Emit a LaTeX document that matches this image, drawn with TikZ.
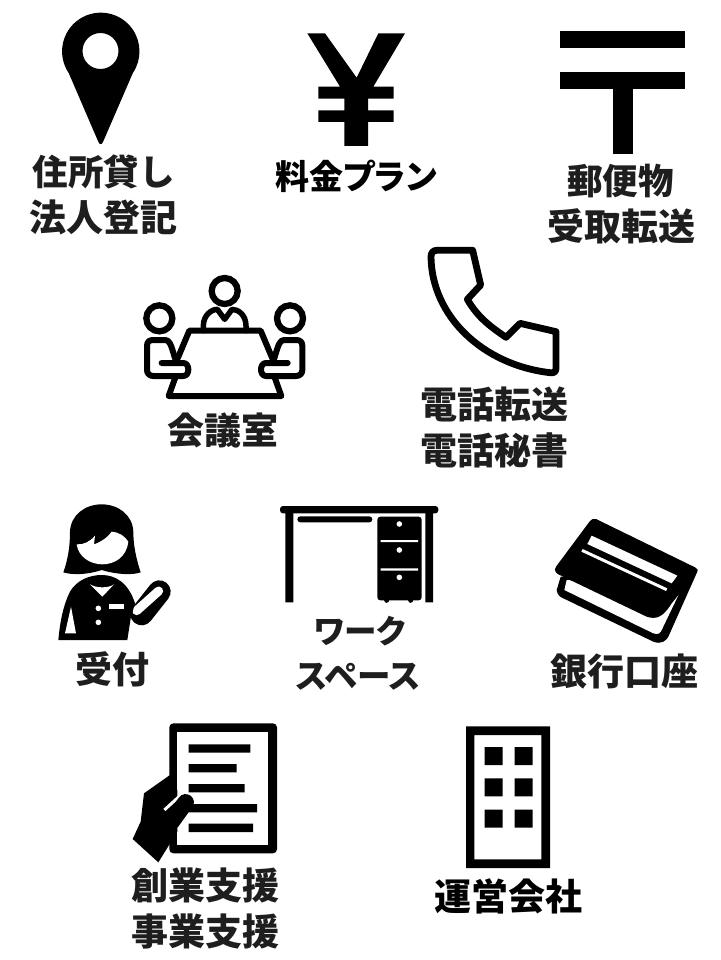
\documentclass[tikz,border=0pt]{standalone}
\usepackage{fontspec}
\newfontfamily\jp{Noto Sans CJK JP}[Script=CJK,Language=Japanese]
\newfontfamily\jpp{Noto Sans CJK JP}[Script=CJK,Language=Japanese,RawFeature={+palt}]
\definecolor{ink}{HTML}{1E1E1E}
\tikzset{
  lbl/.style={font=\jp\bfseries\fontsize{37pt}{37pt}\selectfont, text=ink, inner sep=0pt, anchor=center},
  lbs/.style={lbl, font=\jp\bfseries\fontsize{35.5pt}{35.5pt}\selectfont},
  lbk/.style={lbl, text=black},
  kana/.style={lbl, font=\jpp\bfseries\fontsize{#1pt}{#1pt}\selectfont},
  ico/.style={fill=black, draw=none},
  hole/.style={fill=white, draw=none},
  ln/.style={draw=black, line width=6pt, line cap=round, line join=round},
  zoomA/.style={shift={(#1)}, x=.33333pt, y=-.33333pt}
}
\begin{document}
\begin{tikzpicture}[x=1pt,y=-1pt]
\useasboundingbox[fill=white] (0,0) rectangle (720,960);
% pin
\fill[ico, even odd rule] (68.7,73) arc[start angle=214,end angle=-34,radius=38.7pt] -- (103.2,141.5) .. controls (102,145) and (99.5,145) .. (98.2,141.5) -- cycle (100.5,51) circle[radius=18pt];
% yen
\begin{scope}[zoomA={290,20}]
\fill[ico] (52,40) -- (105,40) -- (200,173) -- (265,40) -- (345,40) -- (250,200) -- (311,200) -- (311,236) -- (234,236) -- (234,271) -- (311,271) -- (311,306) -- (234,306) -- (234,378) -- (163,378) -- (163,306) -- (85,306) -- (85,271) -- (163,271) -- (163,236) -- (85,236) -- (85,200) -- (150,200) -- cycle;
\fill[ico] (810,33) rectangle (1185,85);
\fill[ico] (810,157) rectangle (1185,208);
\fill[ico] (968,208) rectangle (1028,403);
\end{scope}
% meeting room and phone
\begin{scope}[zoomA={130,240}]
\draw[ln] (143,355) -- (178,272) -- (392,272) -- (427,355);
\draw[ln] (135,415) -- (116,468) -- (454,468) -- (435,415);
\draw[draw=black,line width=6.3pt] (284,153) circle[radius=13pt];
\draw[draw=black,line width=6.3pt] (88,235) circle[radius=13pt];
\draw[draw=black,line width=6.3pt] (480,235) circle[radius=13pt];
\draw[ln,line width=5.5pt] (220,272) -- (220,258) .. controls (220,225) and (245,208) .. (262,208) -- (284,238) -- (306,208) .. controls (325,208) and (348,225) .. (348,258) -- (348,272);
\draw[ln] (95,369) -- (160,369) .. controls (180,369) and (180,408) .. (160,408) -- (70,408) .. controls (58,408) and (51,400) .. (51,390) -- (51,318) .. controls (51,305) and (58,300) .. (70,300) -- (105,300) .. controls (118,300) and (122,310) .. (135,355);
\draw[ln] (473,369) -- (408,369) .. controls (388,369) and (388,408) .. (408,408) -- (498,408) .. controls (510,408) and (517,400) .. (517,390) -- (517,318) .. controls (517,305) and (510,300) .. (498,300) -- (463,300) .. controls (450,300) and (446,310) .. (433,355);
% phone
\draw[ln,line width=6.8pt] (920,31) -- (1028,31) -- (1052,135) -- (1012,178) .. controls (1045,235) and (1085,262) .. (1128,292) -- (1170,250) -- (1278,275) -- (1278,385) .. controls (1278,395) and (1272,400) .. (1260,398) .. controls (1060,375) and (905,230) .. (903,50) .. controls (903,38) and (910,31) .. (920,31) -- cycle;
\end{scope}
% receptionist and desk
\begin{scope}[zoomA={40,495}]
\fill[ico] (70,232) .. controls (85,190) and (90,150) .. (90,110) .. controls (92,60) and (135,28) .. (185,28) .. controls (235,28) and (278,60) .. (280,110) .. controls (280,150) and (288,190) .. (302,232) .. controls (280,240) and (235,240) .. (185,225) .. controls (140,240) and (95,240) .. (70,232) -- cycle;
\fill[hole] (110,148) .. controls (130,150) and (150,140) .. (165,122) -- (162,148) .. controls (185,140) and (205,125) .. (215,110) .. controls (240,112) and (255,125) .. (265,140) .. controls (260,185) and (225,208) .. (187,208) .. controls (150,208) and (115,185) .. (110,148) -- cycle;
\draw[draw=black,line width=22.7pt,line cap=round] (305,357) -- (358,290);
\draw[draw=white,line width=9pt,line cap=round] (290,347) -- (356,288);
\fill[ico] (55,435) .. controls (60,380) and (70,330) .. (90,290) .. controls (110,255) and (150,240) .. (185,240) .. controls (225,240) and (265,262) .. (285,325) -- (272,370) -- (262,435) -- cycle;
\fill[hole] (150,268) .. controls (170,280) and (205,280) .. (222,268) -- (187,305) -- cycle;
\fill[hole] (175,340) circle[radius=2.8pt] (175,382) circle[radius=2.8pt];
\fill[hole] (208,328) rectangle (252,342);
\fill[hole] (93,335) -- (108,415) -- (75,415) -- cycle;
% desk
\fill[ico,rounded corners=3pt] (720,33) rectangle (1195,55);
\fill[ico] (736,50) rectangle (760,322) (1156,50) rectangle (1179,322);
\fill[ico,rounded corners=3pt] (772,64) rectangle (997,82);
\fill[ico,rounded corners=3pt] (1012,65) rectangle (1145,316);
\fill[ico] (1040,316) circle[radius=2.5pt] (1112,316) circle[radius=2.5pt];
\fill[hole] (1022,135) rectangle (1134,141) (1022,220) rectangle (1134,227);
\fill[hole] (1078,87) circle[radius=2.8pt] (1078,165) circle[radius=2.8pt] (1078,247) circle[radius=2.8pt];
\end{scope}
% card
\begin{scope}[zoomA={540,505}]
\fill[ico] (62,215) -- (50,255) .. controls (52,270) and (60,276) .. (70,280) -- (340,410) .. controls (365,420) and (380,405) .. (385,395) -- (472,200) -- cycle;
\fill[hole] (80,225) -- (73,255) -- (340,385) .. controls (355,390) and (360,385) .. (365,375) -- (425,250) -- cycle;
\fill[ico] (168,42) .. controls (160,40) and (155,42) .. (150,48) -- (48,185) .. controls (42,195) and (46,203) .. (55,208) -- (320,335) .. controls (350,345) and (370,335) .. (395,295) -- (470,202) .. controls (476,195) and (472,190) .. (465,187) -- cycle;
\fill[hole] (155,92) -- (412,212) -- (395,235) -- (142,117) -- cycle;
\fill[hole] (128,132) -- (382,250) -- (378,258) -- (124,140) -- cycle;
\end{scope}
% document
\begin{scope}[zoomA={120,715}]
\fill[ico,rounded corners=4pt] (148,25) rectangle (471,415);
\fill[hole] (172,50) rectangle (445,390);
\fill[ico] (206,88) rectangle (391,113) (206,147) rectangle (350,172) (206,207) rectangle (374,232) (206,267) rectangle (411,292) (206,326) rectangle (399,351);
\fill[ico] (150,180) -- (72,235) -- (62,320) -- (38,372) -- (115,442) -- (172,350) -- (172,225) -- cycle;
\draw[draw=white,line width=3pt] (133,285) -- (190,233);
\draw[draw=black,line width=16.5pt,line cap=round] (197,262) -- (155,320);
\end{scope}
% building
\begin{scope}[zoomA={430,715}]
\fill[ico,even odd rule] (108,34) rectangle (360,459) (133,60) rectangle (334,433);
\fill[ico] (164,96) rectangle (218,150) (254,96) rectangle (308,150) (164,190) rectangle (218,244) (254,190) rectangle (308,244) (164,284) rectangle (218,338) (254,284) rectangle (308,338);
\end{scope}
% labels
\node[lbs] (a1) at (103.5,171.5) {住所貸し};
\node[lbl] (a2) at (103,217) {法人登記};
\node[kana=34,text=black] (b1) at (356,176) {料金プラン};
\node[lbs] (c1) at (620.5,181) {郵便物};
\node[lbl] (c2) at (621,226) {受取転送};
\node[lbl] (d1) at (223,430) {会議室};
\node[lbl] (e1) at (494,404) {電話転送};
\node[lbl] (e2) at (494,450) {電話秘書};
\node[lbl] (f1) at (112,669) {受付};
\node[kana=32.5] (g1) at (360,631) {ワーク};
\node[kana=33.5] (g2) at (358,677) {スペース};
\node[lbl] (h1) at (624,671) {銀行口座};
\node[lbl] (i1) at (205,885) {創業支援};
\node[lbl] (i2) at (205,931) {事業支援};
\node[lbk] (j1) at (508,896) {運営会社};
\end{tikzpicture}
\end{document}
